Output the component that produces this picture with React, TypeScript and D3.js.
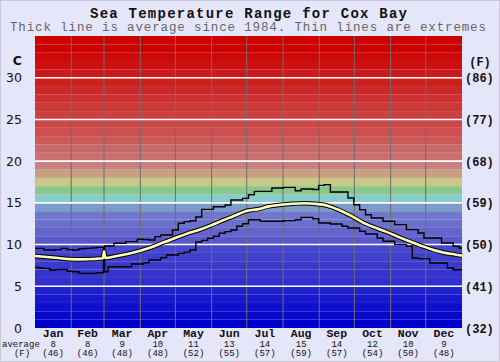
import React from "react";
import * as d3 from "d3";

// values: [day of year, deg C]
const avgLine: [number, number][] = [
  [0, 8.63], [10, 8.51], [20, 8.39], [30, 8.25], [40, 8.22], [50, 8.27], [58, 8.35], [59, 9.2], [60, 8.4],
  [70, 8.63], [80, 8.91], [90, 9.27], [100, 9.71], [110, 10.27], [120, 10.79], [130, 11.31], [140, 11.75],
  [150, 12.27], [160, 12.87], [170, 13.42], [180, 14.0], [190, 14.22], [200, 14.58], [210, 14.78], [220, 14.9],
  [230, 14.96], [240, 14.88], [250, 14.66], [260, 14.14], [270, 13.46], [280, 12.67], [290, 12.07], [300, 11.55],
  [310, 10.95], [320, 10.39], [330, 9.87], [340, 9.39], [350, 9.03], [360, 8.79], [365, 8.67],
];
const maxLine: [number, number][] = [
  [0, 9.55], [5, 9.55], [10, 9.35], [15, 9.35], [20, 9.4], [25, 9.55], [30, 9.4], [35, 9.35], [40, 9.5],
  [45, 9.55], [50, 9.6], [55, 9.67], [58, 9.67], [59, 9.5], [60, 9.83], [65, 9.83], [70, 10.15], [75, 10.15],
  [80, 10.35], [85, 10.35], [90, 10.63], [95, 10.6], [100, 10.55], [105, 10.95], [110, 11.15], [115, 11.15],
  [120, 11.75], [125, 12.55], [130, 12.75], [135, 12.85], [140, 13.3], [145, 14.22], [150, 14.22], [155, 14.54],
  [160, 14.54], [165, 14.74], [170, 15.34], [175, 15.34], [180, 15.54], [185, 15.98], [190, 16.38], [195, 16.38],
  [200, 16.38], [205, 16.78], [210, 16.78], [215, 16.86], [220, 16.86], [225, 16.46], [230, 16.66], [235, 16.66],
  [240, 16.6], [245, 17.1], [250, 17.18], [255, 16.3], [260, 16.3], [265, 16.3], [270, 15.58], [275, 14.78],
  [280, 14.18], [285, 13.58], [290, 13.18], [295, 13.18], [300, 12.79], [305, 12.79], [310, 12.39], [315, 12.39],
  [320, 11.79], [325, 11.79], [330, 11.39], [335, 10.79], [340, 10.79], [345, 10.79], [350, 10.19], [355, 10.19],
  [360, 9.79], [365, 9.59],
];
const minLine: [number, number][] = [
  [0, 7.27], [5, 7.2], [10, 7.15], [15, 6.95], [20, 7.0], [25, 7.03], [30, 6.8], [35, 6.75], [40, 6.55],
  [45, 6.55], [50, 6.55], [55, 6.63], [58, 6.63], [59, 9.1], [60, 6.75], [65, 7.35], [70, 7.35], [75, 7.35],
  [80, 7.35], [85, 7.67], [90, 7.67], [95, 7.83], [100, 8.15], [105, 8.15], [110, 8.43], [115, 8.75], [120, 8.75],
  [125, 8.95], [130, 9.1], [135, 9.35], [140, 10.3], [145, 10.5], [150, 10.75], [155, 11.0], [160, 11.35],
  [165, 11.55], [170, 11.75], [175, 12.2], [180, 12.5], [185, 12.98], [190, 12.98], [195, 12.79], [200, 12.79],
  [205, 12.79], [210, 12.79], [215, 12.87], [220, 12.87], [225, 12.98], [230, 13.26], [235, 13.26], [240, 13.1],
  [245, 12.59], [250, 12.59], [255, 12.47], [260, 12.47], [265, 12.19], [270, 11.99], [275, 11.99], [280, 11.59],
  [285, 11.27], [290, 11.27], [295, 10.79], [300, 10.39], [305, 10.39], [310, 9.99], [315, 9.99], [320, 9.79],
  [325, 8.39], [330, 8.31], [335, 8.31], [340, 7.79], [345, 7.79], [350, 7.79], [355, 7.19], [360, 6.99],
  [365, 6.99],
];

const months = ["Jan", "Feb", "Mar", "Apr", "May", "Jun", "Jul", "Aug", "Sep", "Oct", "Nov", "Dec"];
const monthStart = [0, 31, 59, 90, 120, 151, 181, 212, 243, 273, 304, 334, 365];
const monthAvgC = [8, 8, 9, 10, 11, 13, 14, 15, 14, 12, 10, 9];
const monthAvgF = [46, 46, 48, 48, 52, 55, 57, 59, 57, 54, 50, 48];

const ticksC = [0, 5, 10, 15, 20, 25, 30];
const ticksF = [32, 41, 50, 59, 68, 77, 86];

// one colour per 1 degree band, from 0 upwards
const bandColors = [
  "#0000cc", "#0808cc", "#1010cc", "#1818cc", "#2020cc", "#3030cc", "#3434cc", "#3a3acc", "#4040cc", "#4848cc",
  "#5a5acc", "#6464cc", "#6a70cc", "#7078cc", "#7b9cc8", "#88cccc", "#88c888", "#c8c888", "#c8a080", "#c88080",
  "#c87070", "#c86868", "#cc5a5a", "#cc5050", "#cc4848", "#cc4040", "#cc3838", "#cc3030", "#cc2828", "#cc2020",
  "#cc1818", "#cc1010", "#cc0808", "#cc0000", "#cc0000",
];

const W = 500, H = 362;
const left = 35, right = 462, top = 36, bottom = 328;
const mono = "'Liberation Mono', 'DejaVu Sans Mono', monospace";

export default function App() {
  const x = d3.scaleLinear().domain([0, 365]).range([left, right]);
  const y = d3.scaleLinear().domain([0, 35]).range([bottom, top]);

  const smooth = d3.line<[number, number]>().x(d => x(d[0])).y(d => y(d[1])).curve(d3.curveMonotoneX);
  const stepped = d3.line<[number, number]>().x(d => x(d[0])).y(d => y(d[1])).curve(d3.curveStep);

  return (
    <svg width={W} height={H} style={{ position: "absolute", left: 0, top: 0, display: "block" }}>
      <rect x={0} y={0} width={W} height={H} fill="#e6e6fa" />
      <rect x={0.5} y={0.5} width={W - 1} height={H - 1} fill="none" stroke="#c8c8d8" />

      <text x={90} y={17.5} fontFamily={mono} fontWeight="bold" fontSize={14} fill="#111"
        textLength={317} lengthAdjust="spacing">Sea Temperature Range for Cox Bay</text>
      <text x={10} y={30.5} fontFamily={mono} fontSize={12.5} fill="#666"
        textLength={476} lengthAdjust="spacing">Thick line is average since 1984. Thin lines are extremes</text>

      {bandColors.map((c, i) => (
        <rect key={i} x={left} width={right - left} y={y(i + 1)} height={y(i) - y(i + 1)} fill={c} />
      ))}

      {monthStart.slice(1, 12).map(d => (
        <line key={d} x1={x(d)} x2={x(d)} y1={top} y2={bottom} stroke="#6e6e6e" strokeWidth={1} />
      ))}
      {ticksC.slice(1).map(t => (
        <line key={t} x1={left} x2={right} y1={y(t)} y2={y(t)} stroke="#fff" strokeWidth={1.6} />
      ))}

      <path d={stepped(maxLine) ?? ""} fill="none" stroke="#000" strokeWidth={1.4} />
      <path d={stepped(minLine) ?? ""} fill="none" stroke="#000" strokeWidth={1.4} />
      <path d={smooth(avgLine) ?? ""} fill="none" stroke="#000" strokeWidth={4.6} strokeLinejoin="round" />
      <path d={smooth(avgLine) ?? ""} fill="none" stroke="#ffffb8" strokeWidth={2.6} strokeLinejoin="round" />

      <text x={22} y={65} textAnchor="end" fontFamily="'DejaVu Sans', sans-serif" fontSize={12.5}
        fontWeight="bold" fill="#111">C</text>
      {ticksC.map(t => (
        <text key={t} x={22} y={y(t) + 4.5} textAnchor="end" fontFamily="'DejaVu Sans', sans-serif"
          fontSize={12.5} fill="#111">{t}</text>
      ))}

      <text x={480} y={66} textAnchor="middle" fontFamily={mono} fontSize={12} fontWeight="bold" fill="#111">(F)</text>
      {ticksF.map((f, i) => (
        <text key={f} x={465} y={y(ticksC[i]) + 4.5} fontFamily={mono} fontSize={12} fontWeight="bold"
          fill="#111">({f})</text>
      ))}

      <text x={2} y={346.5} fontFamily={mono} fontSize={9} fill="#111">average</text>
      <text x={22} y={356} textAnchor="middle" fontFamily={mono} fontSize={9} fill="#111">(F)</text>
      {months.map((m, i) => {
        const cx = x((monthStart[i] + monthStart[i + 1]) / 2);
        return (
          <g key={m}>
            <text x={cx} y={337} textAnchor="middle" fontFamily={mono} fontSize={11.5} fontWeight="bold"
              fill="#111">{m}</text>
            <text x={cx} y={346.5} textAnchor="middle" fontFamily={mono} fontSize={9} fill="#111">{monthAvgC[i]}</text>
            <text x={cx} y={356} textAnchor="middle" fontFamily={mono} fontSize={9} fill="#111">({monthAvgF[i]})</text>
          </g>
        );
      })}
    </svg>
  );
}
